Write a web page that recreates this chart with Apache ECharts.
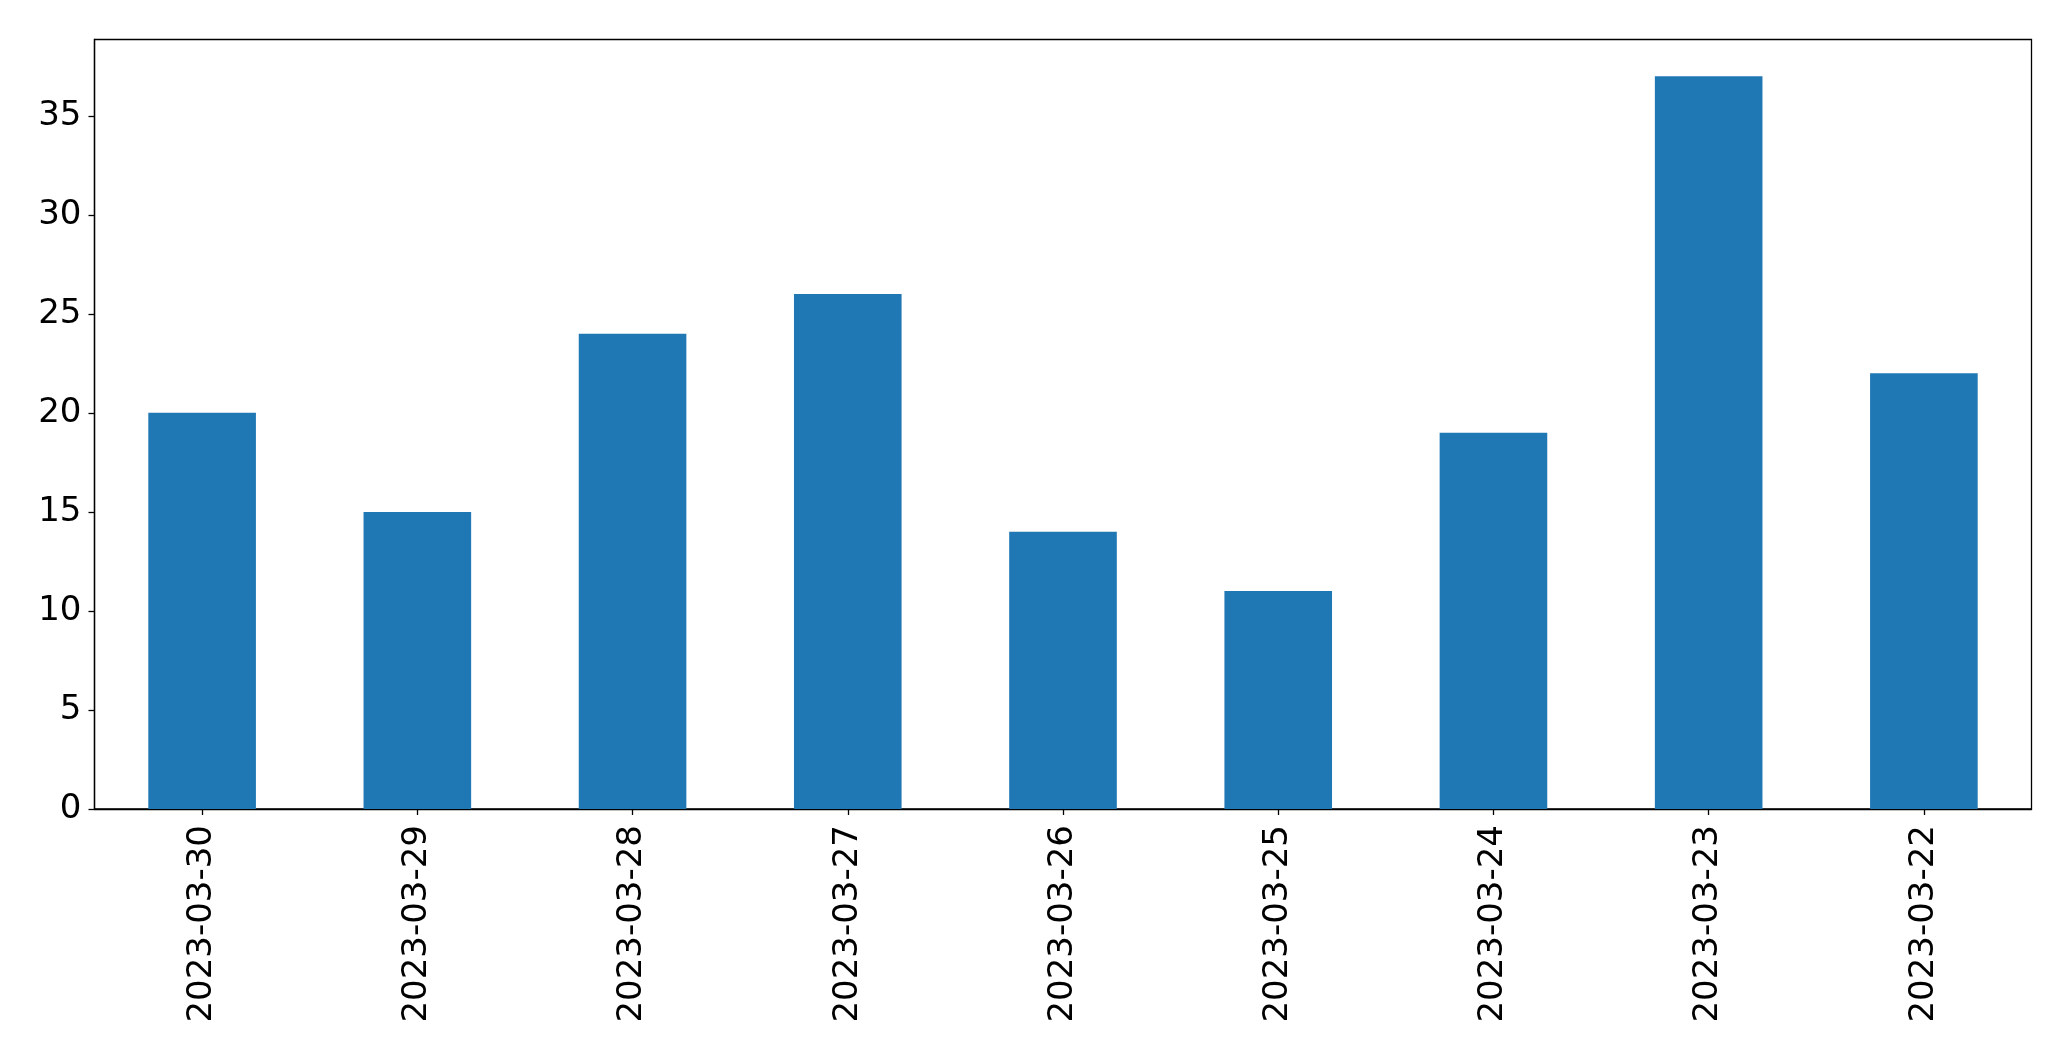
<!DOCTYPE html>
<html>
<head>
<meta charset="utf-8">
<script src="https://cdn.jsdelivr.net/npm/echarts@6/dist/echarts.min.js"></script>
<style>
html,body{margin:0;padding:0;background:#fff;}
#chart{width:2071px;height:1061px;}
</style>
</head>
<body>
<div id="chart"></div>
<script>
const categories = ['2023-03-30','2023-03-29','2023-03-28','2023-03-27','2023-03-26','2023-03-25','2023-03-24','2023-03-23','2023-03-22'];
const values = [20, 15, 24, 26, 14, 11, 19, 37, 22];
const yTicks = [0, 5, 10, 15, 20, 25, 30, 35];

const chart = echarts.init(document.getElementById('chart'), null, {renderer: 'canvas'});
const font = 'DejaVu Sans';
chart.setOption({
  animation: false,
  backgroundColor: '#fff',
  grid: {
    left: 94.5, right: 39.5, top: 39.5, bottom: 252,
    show: true, borderColor: '#000', borderWidth: 1.3, backgroundColor: 'transparent'
  },
  xAxis: {
    type: 'category',
    data: categories,
    boundaryGap: true,
    axisLine: {show: true, lineStyle: {color: '#000', width: 1.3}},
    axisTick: {show: true, alignWithLabel: true, length: 6, lineStyle: {color: '#000', width: 1.3}},
    axisLabel: {rotate: 90, margin: 16, color: '#000', fontFamily: font, fontSize: 34},
    splitLine: {show: false}
  },
  yAxis: {
    type: 'value',
    min: 0, max: 38.85, interval: 5,
    axisLine: {show: true, lineStyle: {color: '#000', width: 1.3}},
    axisTick: {show: true, length: 6, customValues: yTicks, lineStyle: {color: '#000', width: 1.3}},
    axisLabel: {margin: 13, color: '#000', fontFamily: font, fontSize: 34, customValues: yTicks, padding: [4, 0, 0, 0]},
    splitLine: {show: false}
  },
  series: [{
    type: 'bar',
    data: values,
    barWidth: '50%',
    itemStyle: {color: '#1f77b4'}
  }]
});
</script>
</body>
</html>
